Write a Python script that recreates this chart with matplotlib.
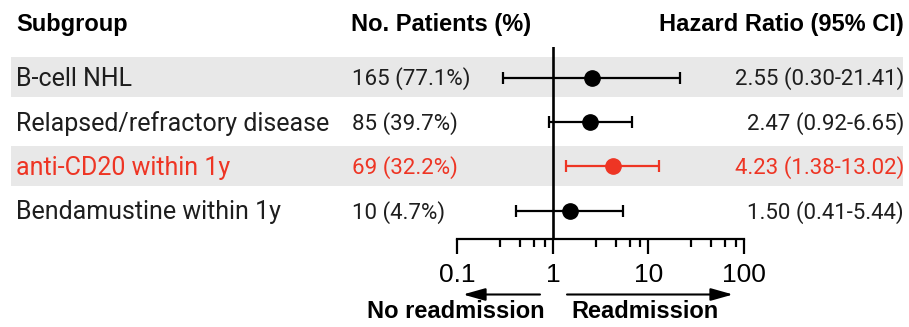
import matplotlib
matplotlib.use("Agg")
import matplotlib.pyplot as plt
from matplotlib.patches import Rectangle, FancyArrowPatch
from matplotlib.ticker import FixedLocator, NullFormatter, FixedFormatter
import matplotlib.transforms as mtransforms

# ---------------- data ----------------
subgroups = ["B-cell NHL", "Relapsed/refractory disease", "anti-CD20 within 1y", "Bendamustine within 1y"]
n_patients = [165, 85, 69, 10]
pct_patients = [77.1, 39.7, 32.2, 4.7]
hr = [2.55, 2.47, 4.23, 1.50]
ci_low = [0.30, 0.92, 1.38, 0.41]
ci_high = [21.41, 6.65, 13.02, 5.44]
highlight = [False, False, True, False]
shaded = [True, False, True, False]
major_ticks = [0.1, 1, 10, 100]
major_labels = ["0.1", "1", "10", "100"]
minor_ticks = [0.28, 0.455, 0.64, 0.82, 2.8, 4.55, 6.4, 8.2, 28, 45.5, 64, 82]

# ---------------- style ----------------
W, H = 909, 327
plt.rcParams['font.family'] = ['Liberation Sans', 'DejaVu Sans']
RED = "#ee3524"
TXT = "#1e1e1e"
GRAY = "#e8e8e8"
LABEL_FONT = ['Roboto', 'DejaVu Sans']

fig = plt.figure(figsize=(W / 100, H / 100), dpi=100)

def fx(px):
    return px / W

def fy(py):
    return 1 - py / H

# forest axes: x from 0.1 (457px) to 100 (744px); y from 47px (top) to 239px (bottom)
ax_l, ax_r, ax_t, ax_b = 457.3, 744.0, 47.0, 239.0
ax = fig.add_axes([fx(ax_l), fy(ax_b), fx(ax_r - ax_l), (ax_b - ax_t) / H])
ax.patch.set_visible(False)
ax.set_xscale("log")
ax.set_xlim(0.1, 100)
row0_px, row_step = 77.5, 44.4
ax.set_ylim((ax_b - row0_px) / row_step, -(row0_px - ax_t) / row_step)

for s in ["top", "right", "left"]:
    ax.spines[s].set_visible(False)
ax.spines["bottom"].set_linewidth(1.6)
ax.set_yticks([])
ax.xaxis.set_major_locator(FixedLocator(major_ticks))
ax.xaxis.set_major_formatter(FixedFormatter(major_labels))
ax.xaxis.set_minor_locator(FixedLocator(minor_ticks))
ax.xaxis.set_minor_formatter(NullFormatter())
ax.tick_params(axis="x", which="major", direction="out", length=11, width=1.6,
               labelsize=19, pad=6, colors="black")
ax.tick_params(axis="x", which="minor", direction="out", length=6, width=1.6)

ax.axvline(1, color="black", lw=1.9, zorder=2)

rows = list(range(len(subgroups)))

# shaded bands
band_tr = mtransforms.blended_transform_factory(fig.transFigure, ax.transData)
for i, sh in zip(rows, shaded):
    if sh:
        ax.add_patch(Rectangle((fx(11), i - 0.46), fx(903 - 11), 0.9,
                               transform=band_tr, facecolor=GRAY, edgecolor="none",
                               clip_on=False, zorder=0))

# points and CIs
for i in rows:
    c = RED if highlight[i] else "black"
    ax.errorbar([hr[i]], [i], xerr=[[hr[i] - ci_low[i]], [ci_high[i] - hr[i]]],
                fmt="o", color=c, ecolor=c, elinewidth=1.6, capsize=4.5, capthick=1.6,
                markersize=11, zorder=3, clip_on=False)

# text columns (baseline offset below row center)
lab_tr = mtransforms.offset_copy(band_tr, fig=fig, y=-8.8, units="dots")
num_tr = mtransforms.offset_copy(band_tr, fig=fig, y=-7.8, units="dots")
for i in rows:
    c = RED if highlight[i] else TXT
    ax.text(fx(16), i, subgroups[i], transform=lab_tr, ha="left", va="baseline",
            fontsize=18, color=c, family=LABEL_FONT)
    ax.text(fx(351.5), i, f"{n_patients[i]} ({pct_patients[i]:.1f}%)", transform=num_tr,
            ha="left", va="baseline", fontsize=16, color=c, family=LABEL_FONT)
    ax.text(fx(904), i, f"{hr[i]:.2f} ({ci_low[i]:.2f}-{ci_high[i]:.2f})", transform=num_tr,
            ha="right", va="baseline", fontsize=16, color=c, family=LABEL_FONT)

# headers
hdr_y = fy(22 + 8.5)
fig.text(fx(16), hdr_y, "Subgroup", ha="left", va="baseline", fontsize=17, fontweight="bold")
fig.text(fx(351), hdr_y, "No. Patients (%)", ha="left", va="baseline", fontsize=17, fontweight="bold")
fig.text(fx(904), hdr_y, "Hazard Ratio (95% CI)", ha="right", va="baseline", fontsize=17, fontweight="bold")

# direction arrows
arr_y = fy(294.5)
for x0, x1 in [(540, 463), (567, 733)]:
    fig.add_artist(FancyArrowPatch(
        (fx(x0), arr_y), (fx(x1), arr_y), transform=fig.transFigure,
        arrowstyle="-|>,head_length=13.5,head_width=3.8", mutation_scale=1,
        color="black", lw=1.5, shrinkA=0, shrinkB=0))
fig.text(fx(456), fy(309 + 8.5), "No readmission", ha="center", va="baseline",
         fontsize=17, fontweight="bold")
fig.text(fx(645), fy(309 + 8.5), "Readmission", ha="center", va="baseline",
         fontsize=17, fontweight="bold")

fig.savefig("out.png", dpi=100)
